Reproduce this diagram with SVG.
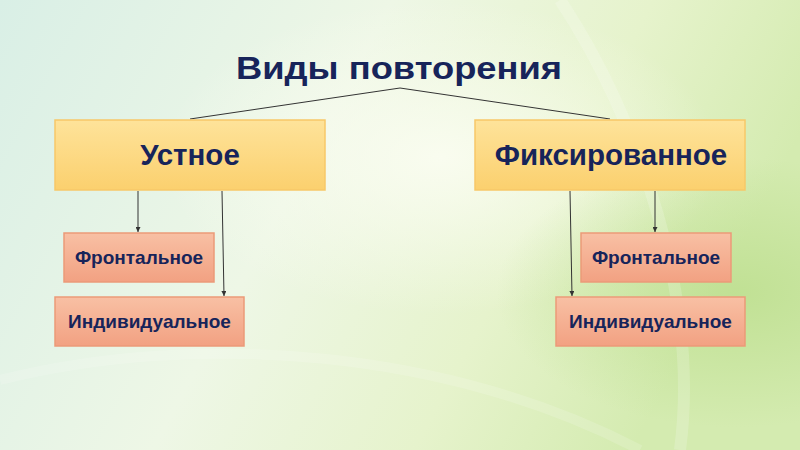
<svg xmlns="http://www.w3.org/2000/svg" width="800" height="450" viewBox="0 0 800 450">
<defs>
<linearGradient id="bg" x1="0" y1="0" x2="1" y2="0.3">
<stop offset="0" stop-color="#d9efe6"/>
<stop offset="0.45" stop-color="#eef7e6"/>
<stop offset="0.75" stop-color="#e6f3cc"/>
<stop offset="1" stop-color="#d4ebb0"/>
</linearGradient>
<radialGradient id="glow1" cx="0.55" cy="0.35" r="0.35">
<stop offset="0" stop-color="#fbfdf2" stop-opacity="0.9"/>
<stop offset="1" stop-color="#fbfdf2" stop-opacity="0"/>
</radialGradient>
<radialGradient id="glow2" cx="0.92" cy="0.65" r="0.3">
<stop offset="0" stop-color="#b8dc88" stop-opacity="0.7"/>
<stop offset="1" stop-color="#b8dc88" stop-opacity="0"/>
</radialGradient>
<linearGradient id="big" x1="0" y1="0" x2="0" y2="1">
<stop offset="0" stop-color="#fee39a"/>
<stop offset="1" stop-color="#fbd06e"/>
</linearGradient>
<linearGradient id="small" x1="0" y1="0" x2="0" y2="1">
<stop offset="0" stop-color="#f8c0a4"/>
<stop offset="1" stop-color="#f2a182"/>
</linearGradient>
<marker id="arr" viewBox="0 0 6 6" refX="6" refY="3" markerWidth="5" markerHeight="5" orient="auto">
<path d="M0,0 L6,3 L0,6 z" fill="#333"/>
</marker>
</defs>
<style>
.big{fill:url(#big);stroke:#f7c868;stroke-width:1.5}
.small{fill:url(#small);stroke:#eb9a78;stroke-width:1.5}
text{font-family:"Liberation Sans",Arial,sans-serif;font-weight:bold;fill:#17245a;text-anchor:middle}
.t1{font-size:32px}
.t2{font-size:29.5px}
.t3{font-size:19px}
.c{stroke:#333;stroke-width:1;fill:none}
</style>
<rect width="800" height="450" fill="url(#bg)"/>
<rect width="800" height="450" fill="url(#glow1)"/>
<rect width="800" height="450" fill="url(#glow2)"/>
<path d="M560,0 C640,120 700,300 680,450" stroke="#ffffff" stroke-opacity="0.18" stroke-width="12" fill="none"/>
<path d="M0,380 C200,330 450,350 640,450" stroke="#ffffff" stroke-opacity="0.15" stroke-width="10" fill="none"/>
<g id="title"><text class="t1" x="399" y="79" textLength="326" lengthAdjust="spacingAndGlyphs">Виды повторения</text></g>
<g id="connectors">
<polyline class="c" points="190,119 400,88 610,119"/>
<line class="c" x1="138" y1="191" x2="138" y2="232" marker-end="url(#arr)"/>
<line class="c" x1="222" y1="191" x2="224" y2="296" marker-end="url(#arr)"/>
<line class="c" x1="570" y1="191" x2="572" y2="296" marker-end="url(#arr)"/>
<line class="c" x1="655" y1="191" x2="655" y2="232" marker-end="url(#arr)"/>
</g>
<g id="ustnoe"><rect class="big" x="55" y="120" width="270" height="70"/><text class="t2" x="190" y="165">Устное</text></g>
<g id="fiks"><rect class="big" x="475" y="120" width="270" height="70"/><text class="t2" x="611" y="165">Фиксированное</text></g>
<g id="front1"><rect class="small" x="64" y="233" width="150" height="49"/><text class="t3" x="139" y="264">Фронтальное</text></g>
<g id="ind1"><rect class="small" x="55" y="297" width="189" height="49"/><text class="t3" x="149.5" y="328">Индивидуальное</text></g>
<g id="front2"><rect class="small" x="581" y="233" width="150" height="49"/><text class="t3" x="656" y="264">Фронтальное</text></g>
<g id="ind2"><rect class="small" x="556" y="297" width="189" height="49"/><text class="t3" x="650.5" y="328">Индивидуальное</text></g>
</svg>
